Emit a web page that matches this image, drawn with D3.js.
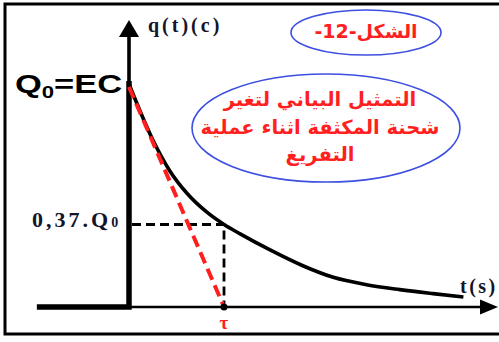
<!DOCTYPE html>
<html>
<head>
<meta charset="utf-8">
<script src="https://cdn.jsdelivr.net/npm/d3@7"></script>
<style>
  html, body { margin: 0; padding: 0; background: #fff; }
  svg { display: block; }
</style>
</head>
<body>
<svg id="chart" width="499" height="342"></svg>
<script>
// Discharge of a capacitor: q(t) in units of Q0, t in units of tau
const tValues = [0, 0.25, 0.43, 0.61, 0.82, 1.0, 1.17, 1.48, 1.83, 2.15, 2.5, 2.85, 3.2, 3.52];
const qValues = [1.0, 0.75, 0.61, 0.51, 0.425, 0.37, 0.328, 0.257, 0.185, 0.133, 0.1, 0.078, 0.06, 0.045];
const tauValue = 1;
const qAtTau = 0.37;
const stepStartT = -0.97;

const axisLabels = { y: "q(t)(c)", x: "t(s)", tau: "τ" };
const q0Label = ["Q", "0", "=EC"];
const q37Label = ["0,37.Q", "0"];
const figureLabel = "الشكل-12-";
const captionLines = ["التمثيل البياني لتغير", "شحنة المكثفة اثناء عملية", "التفريغ"];

const svg = d3.select("#chart");
const x = d3.scaleLinear().domain([0, 1]).range([129, 224]);
const y = d3.scaleLinear().domain([0, 1]).range([307, 84]);

const red = "#ff1f1f";
const blue = "#3d4fe0";
const ink = "#141428";

// outer frame
svg.append("rect").attr("x", 5).attr("y", 4).attr("width", 510).attr("height", 330)
  .attr("fill", "none").attr("stroke", "#000").attr("stroke-width", 3);

// time axis with arrow
const xAxisEnd = 482, xArrowTip = 498;
svg.append("line").attr("x1", x(0) + 2).attr("x2", xAxisEnd).attr("y1", y(0)).attr("y2", y(0))
  .attr("stroke", "#000").attr("stroke-width", 2.6);
svg.append("path")
  .attr("d", `M${xArrowTip},${y(0)} L${xAxisEnd - 2},${y(0) - 7.5} L${xAxisEnd - 2},${y(0) + 7.5} Z`)
  .attr("fill", "#000");

// charge axis with arrow
const yArrowTip = 20, yArrowBase = 37;
svg.append("line").attr("x1", x(0)).attr("x2", x(0)).attr("y1", y(0)).attr("y2", yArrowBase)
  .attr("stroke", "#000").attr("stroke-width", 3.6);
svg.append("path")
  .attr("d", `M${x(0)},${yArrowTip} L${x(0) - 10},${yArrowBase} L${x(0) + 10},${yArrowBase} Z`)
  .attr("fill", "#000");

// q = 0 before t = 0, then jump to Q0
svg.append("path")
  .attr("d", d3.line()([[x(stepStartT), y(0)], [x(0), y(0)], [x(0), y(1) - 3]]))
  .attr("fill", "none").attr("stroke", "#000").attr("stroke-width", 5.5)
  .attr("stroke-linejoin", "miter");

// discharge curve
const pts = tValues.map((t, i) => [x(t), y(qValues[i])]);
svg.append("path")
  .attr("d", d3.line().curve(d3.curveMonotoneX)(pts))
  .attr("fill", "none").attr("stroke", "#000").attr("stroke-width", 3.6)
  .attr("stroke-linecap", "butt");

// tau construction lines
svg.append("path")
  .attr("d", d3.line()([[x(0) + 3, y(qAtTau)], [x(tauValue), y(qAtTau)], [x(tauValue), y(0)]]))
  .attr("fill", "none").attr("stroke", "#000").attr("stroke-width", 2.8)
  .attr("stroke-dasharray", "9,5");

// tangent at t = 0
svg.append("line")
  .attr("x1", x(0)).attr("y1", y(1) + 3).attr("x2", x(tauValue)).attr("y2", y(0))
  .attr("stroke", red).attr("stroke-width", 4).attr("stroke-dasharray", "12,6");

svg.append("circle").attr("cx", x(tauValue)).attr("cy", y(0)).attr("r", 3.5).attr("fill", "#000");

// axis labels
const serif = "'Liberation Serif', 'Times New Roman', serif";
svg.append("text").attr("x", 148).attr("y", 32)
  .attr("font-family", serif).attr("font-weight", "bold").attr("font-size", 20)
  .attr("letter-spacing", 3).attr("fill", ink).text(axisLabels.y);
svg.append("text").attr("x", 460).attr("y", 293)
  .attr("font-family", serif).attr("font-weight", "bold").attr("font-size", 20)
  .attr("letter-spacing", 2.5).attr("fill", ink).text(axisLabels.x);
svg.append("text").attr("x", x(tauValue)).attr("y", 329).attr("text-anchor", "middle")
  .attr("font-family", serif).attr("font-weight", "bold").attr("font-size", 19)
  .attr("fill", red).text(axisLabels.tau);

// Q0 = EC label
const q0 = svg.append("text").attr("transform", `translate(15,${y(1) + 9}) scale(1.38,1)`)
  .attr("font-family", "'Liberation Sans', Arial, sans-serif").attr("font-weight", "bold")
  .attr("font-size", 25).attr("fill", "#000");
q0.append("tspan").text(q0Label[0]);
q0.append("tspan").attr("font-size", 16).attr("dy", 5).text(q0Label[1]);
q0.append("tspan").attr("dy", -5).text(q0Label[2]);

// 0,37.Q0 label
const q37 = svg.append("text").attr("x", 32).attr("y", y(qAtTau) + 3)
  .attr("font-family", serif).attr("font-weight", "bold").attr("font-size", 22)
  .attr("letter-spacing", 3).attr("fill", ink);
q37.append("tspan").text(q37Label[0]);
q37.append("tspan").attr("font-size", 14).attr("dy", 0).text(q37Label[1]);

// figure number badge
const arabic = "'DejaVu Sans', 'Noto Sans', sans-serif";
svg.append("ellipse").attr("cx", 366).attr("cy", 32.5).attr("rx", 75).attr("ry", 22.5)
  .attr("fill", "none").attr("stroke", blue).attr("stroke-width", 1.6);
svg.append("text").attr("x", 366).attr("y", 38).attr("text-anchor", "middle")
  .attr("direction", "rtl").attr("font-family", arabic).attr("font-weight", "bold")
  .attr("font-size", 19).attr("fill", red).text(figureLabel);

// caption badge
svg.append("ellipse").attr("cx", 326).attr("cy", 128).attr("rx", 134).attr("ry", 54)
  .attr("fill", "none").attr("stroke", blue).attr("stroke-width", 1.6);
const lineY = [106, 134, 161];
svg.selectAll("text.caption").data(captionLines).join("text")
  .attr("class", "caption")
  .attr("x", 320).attr("y", (d, i) => lineY[i]).attr("text-anchor", "middle")
  .attr("direction", "rtl").attr("font-family", arabic).attr("font-weight", "bold")
  .attr("font-size", 19.5).attr("fill", red).text(d => d);
</script>
</body>
</html>
